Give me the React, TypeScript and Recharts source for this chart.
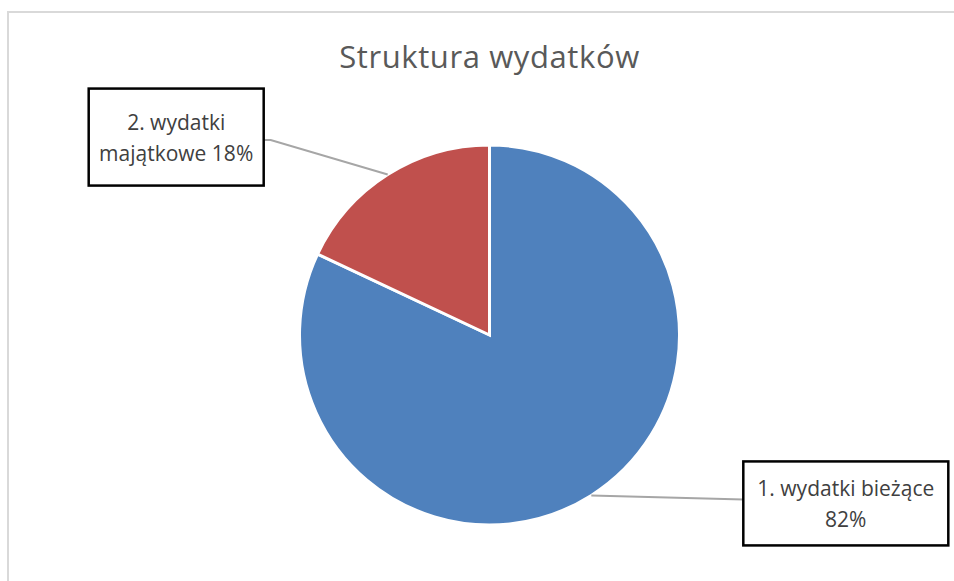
import { PieChart, Pie, Cell } from "recharts"

const categories = ["1. wydatki bieżące", "2. wydatki majątkowe"]
const shares = [82, 18]
const labelLines = [["1. wydatki bieżące", "82%"], ["2. wydatki", "majątkowe 18%"]]
const colors = ["#4f81bd", "#c0504d"]

const chartData = categories.map((name, i) => ({ name, value: shares[i] }))

// where Excel left the label boxes (box corner relative to slice edge point)
const boxLayout = [
  { dx: 152, dy: -34, w: 205, h: 84, side: "left", joinY: -4 },
  { dx: -299, dy: -86, w: 175, h: 97, side: "right", joinY: 3 },
]

const FONT = "'Open Sans', 'DejaVu Sans', sans-serif"

function renderLabel(props: any) {
  const { cx, cy, midAngle, outerRadius, index } = props
  const rad = (Math.PI / 180) * midAngle
  const ex = cx + outerRadius * Math.cos(rad)
  const ey = cy - outerRadius * Math.sin(rad)
  const b = boxLayout[index]
  const bx = ex + b.dx
  const by = ey + b.dy
  const midY = by + b.h / 2
  const jy = midY + b.joinY
  const lines = labelLines[index]
  let path: string
  if (b.side === "left") {
    path = `M${ex},${ey}L${bx},${jy}`
  } else {
    path = `M${ex},${ey}L${bx + b.w + 7},${jy}L${bx + b.w},${jy}`
  }
  return (
    <g key={`lbl-${index}`}>
      <path d={path} stroke="#a6a6a6" strokeWidth={2} fill="none" />
      <rect x={bx} y={by} width={b.w} height={b.h} fill="#fff" stroke="#000" strokeWidth={2.5} />
      {lines.map((t, j) => (
        <text
          key={j}
          x={bx + b.w / 2}
          y={midY + (j === 0 ? -15 : 16)}
          textAnchor="middle"
          dominantBaseline="central"
          fontFamily={FONT}
          fontSize={21}
          fill="#404040"
        >
          {t}
        </text>
      ))}
    </g>
  )
}

export default function App() {
  return (
    <div style={{ position: "absolute", left: 0, top: 0, width: 954, height: 581, overflow: "hidden", background: "#fff" }}>
      <div style={{ position: "absolute", left: 7, top: 11, width: 1200, height: 900, border: "2px solid #d9d9d9" }} />
      <div
        style={{
          position: "absolute",
          left: 0,
          top: 35,
          width: 979,
          textAlign: "center",
          fontFamily: FONT,
          fontSize: 31,
          letterSpacing: 0.6,
          color: "#595959",
        }}
      >
        Struktura wydatków
      </div>
      <div style={{ position: "absolute", left: 0, top: 0 }}>
        <PieChart width={954} height={581} margin={{ top: 0, right: 0, bottom: 0, left: 0 }}>
          <Pie
            data={chartData}
            dataKey="value"
            nameKey="name"
            cx={489.5}
            cy={335}
            outerRadius={190}
            startAngle={90}
            endAngle={-270}
            stroke="#fff"
            strokeWidth={3}
            label={renderLabel}
            labelLine={false}
            isAnimationActive={false}
          >
            {chartData.map((d, i) => (
              <Cell key={d.name} fill={colors[i]} />
            ))}
          </Pie>
        </PieChart>
      </div>
    </div>
  )
}
